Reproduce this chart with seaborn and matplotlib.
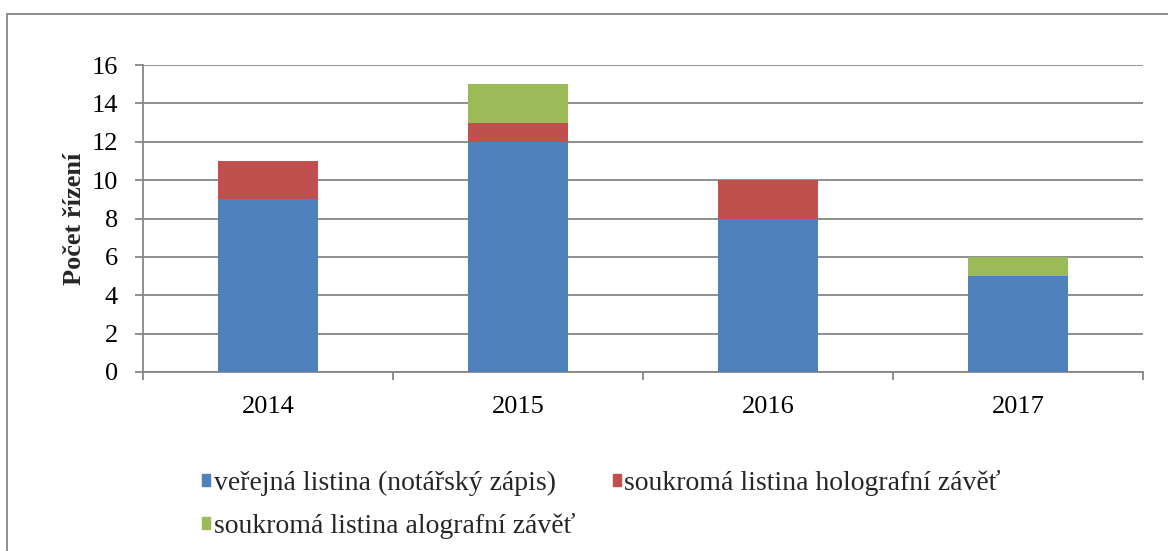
import matplotlib
matplotlib.use("Agg")
import matplotlib.pyplot as plt
import seaborn as sns
import pandas as pd
import numpy as np
from matplotlib.patches import Rectangle, Patch

years = ["2014", "2015", "2016", "2017"]
verejna = [9, 12, 8, 5]
holograf = [2, 1, 2, 0]
alograf = [0, 2, 0, 1]
labels = ["veřejná listina (notářský zápis)",
          "soukromá listina holografní závěť",
          "soukromá listina alografní závěť"]
colors = ["#4F81BD", "#C0504D", "#9BBB59"]

sns.set_theme(style="white")
plt.rcParams['font.family'] = ['Liberation Serif', 'DejaVu Serif']

df = pd.DataFrame({"year": years, "v": verejna, "h": holograf, "a": alograf})
df["vh"] = df["v"] + df["h"]
df["vha"] = df["vh"] + df["a"]

fig = plt.figure(figsize=(11.68, 5.51), dpi=100)
ax = fig.add_axes([143/1168, 1-372/551, 1000/1168, 307/551])

for col, c in [("vha", colors[2]), ("vh", colors[1]), ("v", colors[0])]:
    sns.barplot(data=df, x="year", y=col, color=c, width=0.4, ax=ax,
                saturation=1, zorder=3, linewidth=0, edgecolor=c)

ax.set_xlim(-0.5, 3.5)
ax.set_ylim(0, 16)
ax.set_yticks(np.arange(0, 17, 2))
ax.yaxis.grid(True, color="#868686", linewidth=1.3, zorder=0)
ax.set_axisbelow(True)
for s in ["top", "right"]:
    ax.spines[s].set_visible(False)
for s in ["left", "bottom"]:
    ax.spines[s].set_color("#868686")
    ax.spines[s].set_linewidth(1.3)
ax.set_xticks(np.arange(-0.5, 3.6, 1), minor=True)
ax.tick_params(axis="x", which="major", length=0, pad=17, labelsize=19, colors="black")
ax.tick_params(axis="x", which="minor", length=6, width=1.3, color="#868686", direction="out", bottom=True)
ax.tick_params(axis="y", which="major", length=6, width=1.3, color="#868686", direction="out", left=True,
               pad=12, labelsize=19, labelcolor="black")
ax.set_xlabel("")
ax.set_ylabel("Počet řízení", fontsize=19, fontweight="bold", labelpad=4)

handles = [Patch(color=c, label=l) for c, l in zip(colors, labels)]
order = [0, 2, 1]
fig.legend([handles[i] for i in order], [labels[i] for i in order], ncol=2,
           loc="upper left", bbox_to_anchor=(191/1168, 1-459/551), frameon=False,
           fontsize=20, handlelength=0.3, handleheight=0.3, handletextpad=0.12,
           columnspacing=1.35, labelspacing=0.62, borderaxespad=0)

fig.patches.append(Rectangle((7/1168, -0.1), 1.2, 1.1 - 14/551, transform=fig.transFigure,
                             fill=False, edgecolor="#868686", linewidth=1.3))

fig.savefig("out.png", dpi=100)
